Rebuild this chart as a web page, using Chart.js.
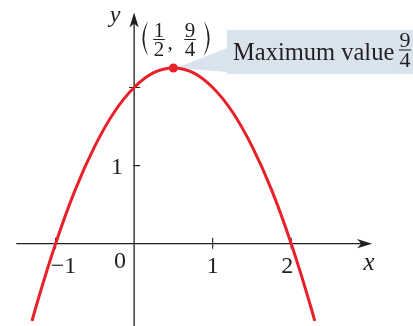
<!doctype html>
<html>
<head>
<meta charset="utf-8">
<title>Maximum value of a parabola</title>
<script src="https://cdn.jsdelivr.net/npm/chart.js@4.4.0/dist/chart.umd.min.js"></script>
<style>
body { margin: 0; background: #fff; }
canvas { display: block; }
</style>
</head>
<body>
<canvas id="canvas" width="413" height="326"></canvas>
<script>
// curve points
var xValues = [-1.3, -1.25, -1, -0.75, -0.5, -0.25, 0, 0.25, 0.5, 0.75, 1, 1.25, 1.5, 1.75, 2, 2.25, 2.3];
var yValues = [-0.99, -0.81, 0, 0.69, 1.25, 1.69, 2, 2.19, 2.25, 2.19, 2, 1.69, 1.25, 0.69, 0, -0.81, -0.99];
var maxPoint = [0.5, 2.25];

var xTicks = [-1, 1, 2];
var xTickLabels = ['\u22121', '1', '2'];
var yTicks = [1, 2];
var yTickLabels = ['1', ''];

var RED = '#e8202a';
var INK = '#231f20';
var SERIF = '"Liberation Serif", "DejaVu Serif", serif';

function text(ctx, s, x, y, font, align) {
    ctx.font = font;
    ctx.textAlign = align || 'center';
    ctx.textBaseline = 'alphabetic';
    ctx.fillStyle = INK;
    ctx.fillText(s, x, y);
}

function fraction(ctx, num, den, cx, barY, size) {
    text(ctx, num, cx, barY - 3, size + 'px ' + SERIF);
    text(ctx, den, cx, barY + size * 0.68 + 2, size + 'px ' + SERIF);
    var w = size * 0.55;
    ctx.fillStyle = INK;
    ctx.fillRect(cx - w / 2, barY - 0.5, w, 1);
}

function arrowHead(ctx, tx, ty, dx, dy) {
    // stealth style arrow, dx/dy = unit direction of the tip
    var len = 15, half = 4.6, notch = 11;
    var px = -dy, py = dx;
    ctx.beginPath();
    ctx.moveTo(tx, ty);
    ctx.lineTo(tx - dx * len + px * half, ty - dy * len + py * half);
    ctx.lineTo(tx - dx * notch, ty - dy * notch);
    ctx.lineTo(tx - dx * len - px * half, ty - dy * len - py * half);
    ctx.closePath();
    ctx.fillStyle = INK;
    ctx.fill();
}

function paren(ctx, x, top, bottom, left) {
    var mid = (top + bottom) / 2;
    var s = left ? -1 : 1;
    ctx.beginPath();
    ctx.moveTo(x, top);
    ctx.quadraticCurveTo(x + s * 11, mid, x, bottom);
    ctx.quadraticCurveTo(x + s * 7.5, mid, x, top);
    ctx.fillStyle = INK;
    ctx.fill();
}

var axesPlugin = {
    id: 'axes',
    beforeDatasetsDraw: function(chart) {
        var ctx = chart.ctx;
        var xs = chart.scales.x, ys = chart.scales.y;
        var ox = xs.getPixelForValue(0), oy = ys.getPixelForValue(0);
        var mx = xs.getPixelForValue(maxPoint[0]), my = ys.getPixelForValue(maxPoint[1]);
        ctx.save();

        // callout
        ctx.fillStyle = '#d9e3ee';
        ctx.beginPath();
        ctx.moveTo(mx + 3, my);
        ctx.lineTo(227, 48);
        ctx.lineTo(227, 72);
        ctx.closePath();
        ctx.fill();
        ctx.fillRect(227, 30, 186, 44);

        // axes
        ctx.strokeStyle = INK;
        ctx.lineWidth = 1.3;
        ctx.beginPath();
        ctx.moveTo(xs.getPixelForValue(-1.5), oy);
        ctx.lineTo(xs.getPixelForValue(3.03) - 10, oy);
        ctx.moveTo(ox, ys.getPixelForValue(-1.2));
        ctx.lineTo(ox, ys.getPixelForValue(2.96) + 10);
        ctx.stroke();
        arrowHead(ctx, xs.getPixelForValue(3.03), oy, 1, 0);
        arrowHead(ctx, ox, ys.getPixelForValue(2.96), 0, -1);

        // ticks
        ctx.lineWidth = 1.1;
        ctx.beginPath();
        xTicks.forEach(function(v) {
            var p = xs.getPixelForValue(v);
            ctx.moveTo(p, oy - 6);
            ctx.lineTo(p, oy + 5);
        });
        yTicks.forEach(function(v) {
            var p = ys.getPixelForValue(v);
            ctx.moveTo(ox - (v === 2 ? 5 : 1), p);
            ctx.lineTo(ox + 6, p);
        });
        ctx.stroke();
        ctx.restore();
    },
    afterDraw: function(chart) {
        var ctx = chart.ctx;
        var xs = chart.scales.x, ys = chart.scales.y;
        var ox = xs.getPixelForValue(0), oy = ys.getPixelForValue(0);
        ctx.save();
        var f = '24px ' + SERIF;

        var dxs = [8, 0, -4];
        xTicks.forEach(function(v, i) {
            text(ctx, xTickLabels[i], xs.getPixelForValue(v) + dxs[i], oy + 29, f);
        });
        text(ctx, '0', ox - 14, oy + 24, f);
        yTicks.forEach(function(v, i) {
            if (yTickLabels[i]) text(ctx, yTickLabels[i], ox - 11, ys.getPixelForValue(v) + 8, f, 'right');
        });

        text(ctx, 'x', 369, oy + 26, 'italic 25px ' + SERIF);
        text(ctx, 'y', 115, 22, 'italic 24px ' + SERIF);

        // point label
        paren(ctx, 148, 21, 56, true);
        paren(ctx, 204, 21, 56, false);
        fraction(ctx, '1', '2', 159, 39.5, 21);
        text(ctx, ',', 170, 49, '21px ' + SERIF);
        fraction(ctx, '9', '4', 190, 39.5, 21);

        // callout text
        text(ctx, 'Maximum value', 233, 60, '24.5px ' + SERIF, 'left');
        fraction(ctx, '9', '4', 405, 50, 22);
        ctx.restore();
    }
};

var ctx = document.getElementById('canvas').getContext('2d');
var curve = xValues.map(function(x, i) { return { x: x, y: yValues[i] }; });

new Chart(ctx, {
    type: 'scatter',
    data: {
        datasets: [{
            data: curve,
            showLine: true,
            borderColor: RED,
            borderWidth: 3,
            pointRadius: 0,
            cubicInterpolationMode: 'monotone',
            fill: false
        }, {
            data: [{ x: maxPoint[0], y: maxPoint[1] }],
            pointRadius: 4.5,
            backgroundColor: RED,
            borderWidth: 0
        }]
    },
    options: {
        responsive: false,
        animation: false,
        devicePixelRatio: 1,
        layout: { padding: 0 },
        plugins: { legend: { display: false }, tooltip: { enabled: false } },
        scales: {
            x: { type: 'linear', min: -1.6501, max: 3.4931, display: false },
            y: { type: 'linear', min: -0.9963, max: 3.0635, display: false }
        }
    },
    plugins: [axesPlugin]
});
</script>
</body>
</html>
